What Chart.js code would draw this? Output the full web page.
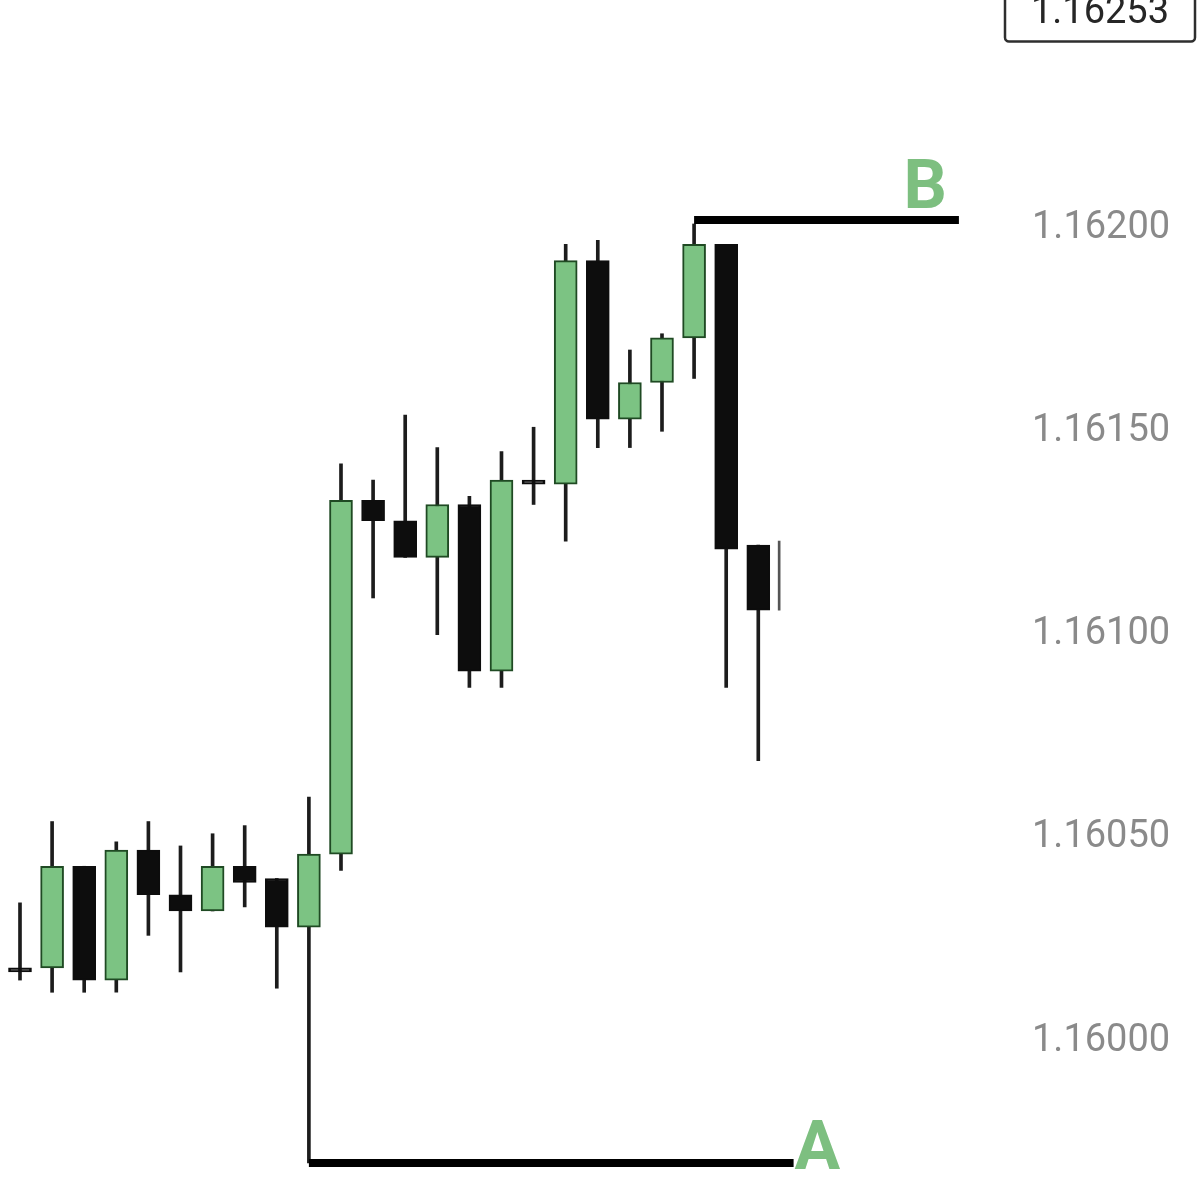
<!DOCTYPE html>
<html>
<head>
<meta charset="utf-8">
<script src="https://cdn.jsdelivr.net/npm/chart.js@4.4.1/dist/chart.umd.min.js"></script>
<style>
  html, body { margin: 0; padding: 0; background: #ffffff; }
  #wrap { width: 1200px; height: 1200px; position: relative; }
</style>
</head>
<body>
<div id="wrap"><canvas id="c"></canvas></div>
<script>
// ---- data ----
const candleIndex = [0, 1, 2, 3, 4, 5, 6, 7, 8, 9, 10, 11, 12, 13, 14, 15, 16, 17, 18, 19, 20, 21, 22, 23, 24, 24.65];
const opens  = [1.16018, 1.16018, 1.16018, 1.16043, 1.16015, 1.16047, 1.16036, 1.16032, 1.16043, 1.16040, 1.16028, 1.16046, 1.16133, 1.16128, 1.16119, 1.16132, 1.16091, 1.16138, 1.16137, 1.16192, 1.16153, 1.16162, 1.16173, 1.16196, 1.16122, null];
const highs  = [1.16019, 1.16034, 1.16054, 1.16043, 1.16049, 1.16054, 1.16048, 1.16051, 1.16053, 1.16040, 1.16060, 1.16142, 1.16138, 1.16154, 1.16146, 1.16134, 1.16145, 1.16151, 1.16196, 1.16197, 1.16170, 1.16174, 1.16201, 1.16196, 1.16122, 1.16123];
const lows   = [1.16016, 1.16015, 1.16012, 1.16012, 1.16012, 1.16026, 1.16017, 1.16032, 1.16033, 1.16013, 1.15970, 1.16042, 1.16109, 1.16119, 1.16100, 1.16087, 1.16087, 1.16132, 1.16123, 1.16146, 1.16146, 1.16150, 1.16163, 1.16087, 1.16069, 1.16106];
const closes = [1.16017, 1.16017, 1.16043, 1.16015, 1.16047, 1.16036, 1.16032, 1.16043, 1.16039, 1.16028, 1.16046, 1.16133, 1.16128, 1.16119, 1.16132, 1.16091, 1.16138, 1.16137, 1.16192, 1.16153, 1.16162, 1.16173, 1.16196, 1.16121, 1.16106, null];

const tickValues = [1.16000, 1.16050, 1.16100, 1.16150, 1.16200];
const currentPrice = 1.16253;

const levelA = { label: 'A', price: 1.15970, from: 10, to: 25.1 };
const levelB = { label: 'B', price: 1.16202, from: 22, to: 30.25 };

const yRange = { min: 1.159609, max: 1.162561 };
const xRange = { min: 0.377, max: 31.53 };

// ---- styling ----
const GREEN = '#7cc383';
const GREEN_EDGE = '#1f4a23';
const BLACK = '#0d0d0d';
const LABEL_GREEN = '#7dbf80';

const full = candleIndex.map((i, k) => ({ i, o: opens[k], h: highs[k], l: lows[k], c: closes[k] }));
const complete = full.filter(d => d.o !== null);
const forming = full.filter(d => d.o === null);

const bodyColors = complete.map(d => d.c > d.o ? GREEN : BLACK);
const bodyEdges = complete.map(d => d.c > d.o ? GREEN_EDGE : BLACK);

const annotations = {
  id: 'annotations',
  afterDraw(chart) {
    const { ctx, scales: { x, y } } = chart;
    ctx.save();
    ctx.font = 'bold 68px Roboto, "Liberation Sans", sans-serif';
    ctx.fillStyle = LABEL_GREEN;
    ctx.textBaseline = 'alphabetic';
    ctx.textAlign = 'right';
    ctx.fillText(levelB.label, x.getPixelForValue(levelB.to) - 12, y.getPixelForValue(levelB.price) - 12);
    ctx.textAlign = 'left';
    ctx.fillText(levelA.label, x.getPixelForValue(levelA.to) + 1, y.getPixelForValue(levelA.price) + 6);

    // current price box
    const py = y.getPixelForValue(currentPrice);
    const bx = chart.chartArea.right + 5, bw = chart.width - 5 - bx, bh = 56;
    const by = py - bh / 2 + 1;
    ctx.fillStyle = '#ffffff';
    ctx.strokeStyle = '#2e2e2e';
    ctx.lineWidth = 2.5;
    ctx.beginPath();
    if (ctx.roundRect) ctx.roundRect(bx, by, bw, bh, 4); else ctx.rect(bx, by, bw, bh);
    ctx.fill();
    ctx.stroke();
    ctx.fillStyle = '#262626';
    ctx.font = '38px Roboto, sans-serif';
    ctx.textAlign = 'center';
    ctx.textBaseline = 'middle';
    ctx.fillText(currentPrice.toFixed(5), bx + bw / 2, py + 1);
    ctx.restore();
  }
};

new Chart(document.getElementById('c'), {
  type: 'bar',
  data: {
    datasets: [
      {
        type: 'line',
        data: [{ x: levelA.from, y: levelA.price }, { x: levelA.to, y: levelA.price }],
        borderColor: '#000', borderWidth: 8, pointRadius: 0, borderCapStyle: 'butt', order: -2
      },
      {
        type: 'line',
        data: [{ x: levelB.from, y: levelB.price }, { x: levelB.to, y: levelB.price }],
        borderColor: '#000', borderWidth: 8, pointRadius: 0, borderCapStyle: 'butt', order: -2
      },
      {
        data: complete.map(d => ({ x: d.i, y: [d.o, d.c] })),
        backgroundColor: bodyColors,
        borderColor: bodyEdges,
        borderWidth: 2,
        borderSkipped: false,
        barThickness: 23,
        grouped: false,
        order: 0
      },
      {
        data: complete.map(d => ({ x: d.i, y: [d.l, d.h] })),
        backgroundColor: '#1c1c1c',
        borderWidth: 0,
        barThickness: 3,
        grouped: false,
        order: 1
      },
      {
        data: forming.map(d => ({ x: d.i, y: [d.l, d.h] })),
        backgroundColor: '#555555',
        borderWidth: 0,
        barThickness: 2,
        grouped: false,
        order: 1
      }
    ]
  },
  options: {
    responsive: true,
    maintainAspectRatio: false,
    animation: false,
    layout: { padding: 0 },
    plugins: { legend: { display: false }, tooltip: { enabled: false } },
    scales: {
      x: { type: 'linear', display: false, min: xRange.min, max: xRange.max, offset: false },
      y: {
        position: 'right',
        min: yRange.min,
        max: yRange.max,
        grid: { display: false, drawTicks: false },
        border: { display: false },
        ticks: {
          padding: 32,
          includeBounds: false,
          color: '#8a8a8a',
          font: { family: 'Roboto', size: 38 },
          callback: v => Number(v).toFixed(5)
        },
        afterBuildTicks: s => { s.ticks = tickValues.map(v => ({ value: v })); },
        afterFit: s => { s.width = 200; s.paddingTop = 0; s.paddingBottom = 0; }
      }
    }
  },
  plugins: [annotations]
});
</script>
</body>
</html>
